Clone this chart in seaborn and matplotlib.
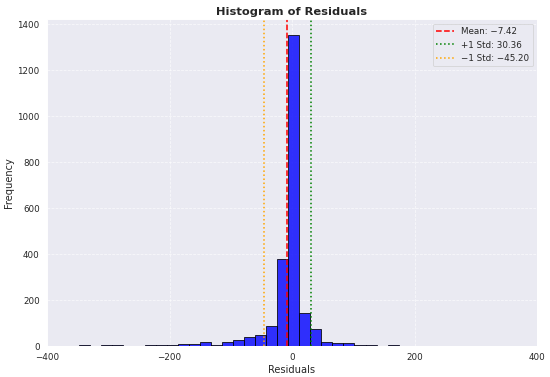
import numpy as np
import pandas as pd
import matplotlib
matplotlib.use("Agg")
import matplotlib.pyplot as plt
import seaborn as sns

# Histogram bins (left edge, width) and counts
bin_start = -348.0
bin_width = 18.0
counts = [3, 0, 3, 3, 0, 0, 4, 3, 3, 10, 8, 19, 6, 19, 25, 39, 48, 89,
          380, 1355, 143, 74, 19, 15, 14, 6, 3, 0, 3]
mean_val = -7.42
plus_std = 30.36
minus_std = -45.20

bin_end = bin_start + bin_width * len(counts)
centers = bin_start + bin_width * (np.arange(len(counts)) + 0.5)
df = pd.DataFrame({"Residuals": centers, "count": counts})

sns.set_theme(style="darkgrid")
fig, ax = plt.subplots(figsize=(10, 6.855), dpi=55)

sns.histplot(data=df, x="Residuals", weights="count", binwidth=bin_width,
             binrange=(bin_start, bin_end),
             color="blue", alpha=0.8, edgecolor="black", linewidth=1, ax=ax)

def fmt(v):
    return f"{v:.2f}".replace("-", "\u2212")

ax.axvline(mean_val, color="red", linestyle="--", linewidth=2, label=f"Mean: {fmt(mean_val)}")
ax.axvline(plus_std, color="green", linestyle=":", linewidth=2, label=f"+1 Std: {fmt(plus_std)}")
ax.axvline(minus_std, color="orange", linestyle=":", linewidth=2, label=f"\u22121 Std: {fmt(minus_std)}")

ax.set_xlim(-400, 400)
ax.set_xticks([-400, -200, 0, 200, 400])
ax.set_yticks(range(0, 1401, 200))
ax.tick_params(labelsize=11.5)
ax.grid(True, linestyle="--", alpha=0.7)
ax.set_title("Histogram of Residuals", fontsize=15, fontweight="bold")
ax.set_xlabel("Residuals", fontsize=13)
ax.set_ylabel("Frequency", fontsize=13)
ax.legend(loc="upper right", fontsize=11.5)

fig.subplots_adjust(left=0.0855, right=0.9764, top=0.949, bottom=0.0822)
fig.savefig("out.png", dpi=55)
